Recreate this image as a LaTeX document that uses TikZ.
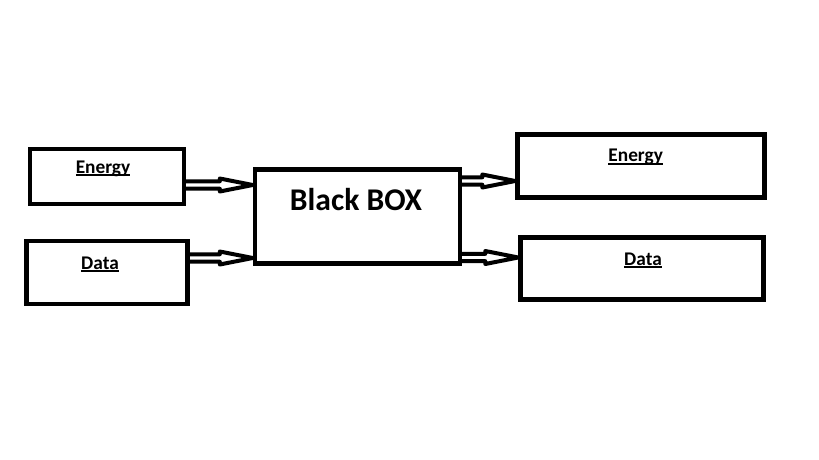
\documentclass[tikz,border=0pt]{standalone}
\usepackage{fontspec}
\setmainfont{Carlito}
\usetikzlibrary{backgrounds,calc}
\newcommand{\undl}[1]{\setbox0\hbox{#1}\rlap{\rule[-1.7pt]{\wd0}{1.1pt}}\box0}
\tikzset{
    bb diagram/.style = {x=0.02cm, y=-0.02cm},
    box/.style        = {draw, line width=0.09cm, fill=white, inner sep=0pt},
    lbl/.style        = {anchor=base, inner sep=0pt,
                         font=\fontsize{11}{13}\selectfont\bfseries},
    big/.style        = {lbl, font=\fontsize{18}{21}\selectfont\bfseries},
    pipe/.style       = {draw, line width=0.08cm, fill=white, line join=round,
                         to path={let \p1=(\tikztostart), \p2=(\tikztotarget) in
                           (\x1-0.1cm,\y1+0.074cm) -- (\x2-0.66cm,\y1+0.074cm)
                           -- (\x2-0.66cm,\y1+0.13cm) -- (\x2,\y1)
                           -- (\x2-0.66cm,\y1-0.13cm) -- (\x2-0.66cm,\y1-0.074cm)
                           -- (\x1-0.1cm,\y1-0.074cm) -- cycle}}
}
\begin{document}
\begin{tikzpicture}[bb diagram]
\useasboundingbox (0,0) rectangle (819,460);

% ================= Boxes =================
\node[box, minimum width=3.08cm, minimum height=1.1cm]  (eIn)  at (107,176.5) {};
\node[box, minimum width=3.23cm, minimum height=1.26cm] (dIn)  at (107,272.5) {};
\node[box, minimum width=4.1cm,  minimum height=1.88cm] (bb)   at (357.5,216.5) {};
\node[box, minimum width=4.94cm, minimum height=1.26cm] (eOut) at (641,166) {};
\node[box, minimum width=4.86cm, minimum height=1.24cm] (dOut) at (642,268.5) {};

% ================= Labels =================
\node[lbl] (eInT)  at (103,173.3)   {\undl{Energy}};
\node[lbl] (dInT)  at (100,269.3)   {\undl{Data}};
\node[big] (bbT)   at (356,210.5)   {Black BOX};
\node[lbl] (eOutT) at (635.7,161.7) {\undl{Energy}};
\node[lbl] (dOutT) at (643,265)     {\undl{Data}};

% ================= Arrow lanes =================
\coordinate (laneE)  at (0,185);
\coordinate (laneD)  at (0,258);
\coordinate (laneEo) at (0,181);
\coordinate (laneDo) at (0,257.5);

% ================= Arrows (behind the boxes) =================
\begin{scope}[on background layer]
\draw[pipe] (eIn.east |- laneE) to (bb.west |- laneE);
\draw[pipe] (dIn.east |- laneD) to (bb.west |- laneD);
\draw[pipe] (bb.east |- laneEo) to (eOut.west |- laneEo);
\draw[pipe] (bb.east |- laneDo) to (dOut.west |- laneDo);
\end{scope}

\end{tikzpicture}
\end{document}
